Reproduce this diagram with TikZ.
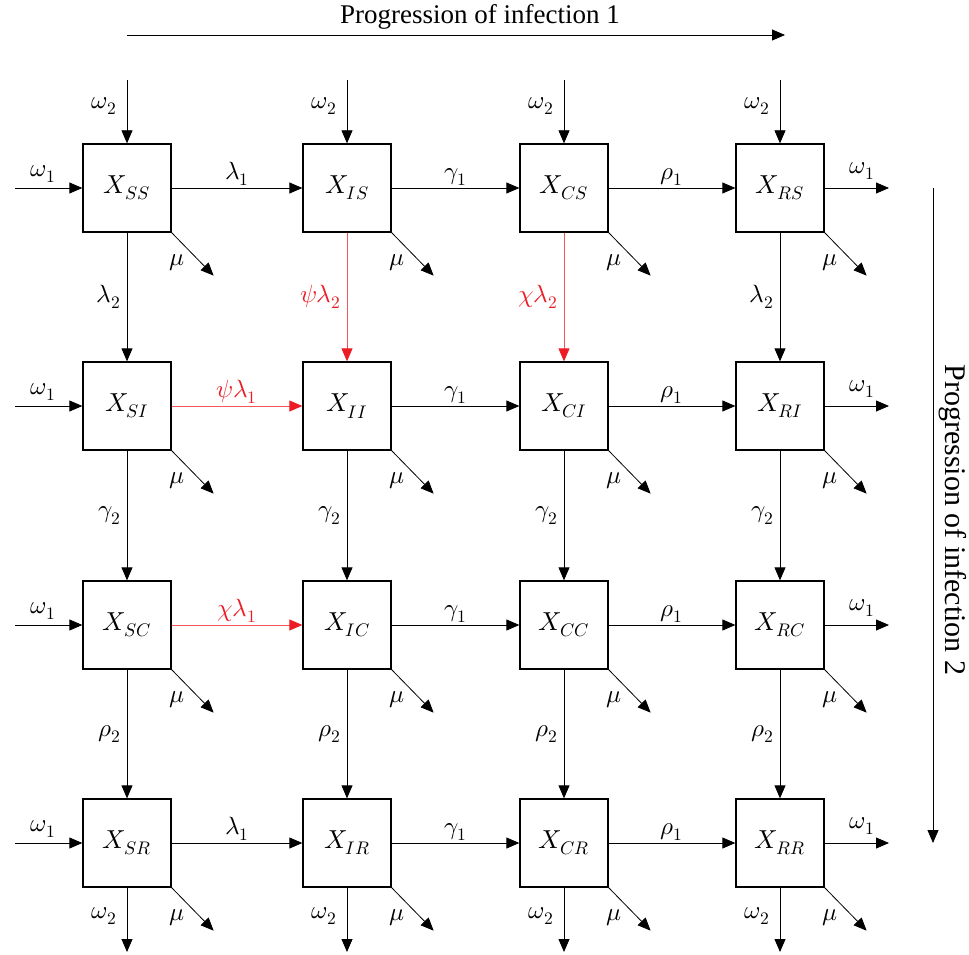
\documentclass[tikz,border=0pt]{standalone}
\usepackage{fontspec}
\usepackage{unicode-math}
\setmainfont{Liberation Serif}
\setmathfont{Latin Modern Math}
\usetikzlibrary{arrows.meta,calc}
\definecolor{flowred}{RGB}{237,28,36}
\begin{document}
\begin{tikzpicture}[x=1pt,y=-1pt,
  comp/.style={draw, line width=1.3pt, minimum width=88pt, minimum height=88pt,
    inner sep=0pt, font=\fontsize{26}{28}\selectfont},
  flow/.style={line width=0.8pt, -{Triangle[length=13pt,width=11pt]}},
  redflow/.style={line width=0.8pt, draw=flowred!75,
    -{Triangle[length=13pt,width=11pt,color=flowred,fill=flowred]}},
  rate/.style={font=\fontsize{25}{27}\selectfont, inner sep=1pt},
  redrate/.style={rate, text=flowred},
  heading/.style={font=\fontsize{27}{30}\selectfont, inner sep=0pt},
]
\useasboundingbox (0,0) rectangle (969,955);

% compartments: first subscript = state of infection 1, second = infection 2
\foreach \c/\x in {S/127,I/347,C/564,R/780}
  \foreach \r/\y in {S/188,I/406,C/625,R/843}
    \node[comp] (X\c\r) at (\x,\y) {$X_{\c\r}$};

% progression of infection 1 (horizontal)
\foreach \r in {S,R}
  \draw[flow] (XS\r) -- node[midway, above=1pt, rate] {$\lambda_1$} (XI\r);
\draw[redflow] (XSI) -- node[midway, above=1pt, redrate] {$\psi\lambda_1$} (XII);
\draw[redflow] (XSC) -- node[midway, above=1pt, redrate] {$\chi\lambda_1$} (XIC);
\foreach \r in {S,I,C,R} {
  \draw[flow] (XI\r) -- node[midway, above=1pt, rate] {$\gamma_1$} (XC\r);
  \draw[flow] (XC\r) -- node[midway, above=1pt, rate] {$\rho_1$} (XR\r);
}

% progression of infection 2 (vertical)
\foreach \c in {S,R}
  \draw[flow] (X\c S) -- node[midway, left=5pt, rate] {$\lambda_2$} (X\c I);
\draw[redflow] (XIS) -- node[midway, left=5pt, redrate] {$\psi\lambda_2$} (XII);
\draw[redflow] (XCS) -- node[midway, left=5pt, redrate] {$\chi\lambda_2$} (XCI);
\foreach \c in {S,I,C,R} {
  \draw[flow] (X\c I) -- node[midway, left=5pt, rate] {$\gamma_2$} (X\c C);
  \draw[flow] (X\c C) -- node[midway, left=5pt, rate] {$\rho_2$} (X\c R);
}

% mortality from every compartment
\foreach \c in {S,I,C,R}
  \foreach \r in {S,I,C,R} {
    \draw[flow] (X\c\r.south east) -- ++(42,43) coordinate (mu\c\r);
    \node[rate] at ($(X\c\r.south east)+(5,30)$) {$\mu$};
  }

% inflow along the top row, outflow along the bottom row (omega_2)
\foreach \c/\x in {S/127,I/347,C/564,R/780} {
  \coordinate (in\c) at (\x,80);
  \draw[flow] (in\c) -- (X\c S);
  \node[rate] at (\x-23,106) {$\omega_2$};
  \coordinate (out\c) at (\x,952);
  \draw[flow] (X\c R) -- (out\c);
  \node[rate] at (\x-23,916) {$\omega_2$};
}
% inflow along the left column, outflow along the right column (omega_1)
\foreach \r/\y in {S/188,I/406,C/625,R/843} {
  \coordinate (left\r) at (15,\y);
  \draw[flow] (left\r) -- (XS\r);
  \node[rate] at (43,\y-14) {$\omega_1$};
  \coordinate (right\r) at (889,\y);
  \draw[flow] (XR\r) -- (right\r);
  \node[rate] at (862,\y-17) {$\omega_1$};
}

% axis arrows
\coordinate (h0) at (127,35);
\coordinate (h1) at (785,35);
\draw[flow] (h0) -- (h1);
\node[heading] (head1) at (480,17) {Progression of infection 1};
\coordinate (v0) at (933,188);
\coordinate (v1) at (933,843);
\draw[flow] (v0) -- (v1);
\node[heading, rotate=-90, font=\fontsize{30}{32}\selectfont] (head2) at (953,520) {Progression of infection 2};
\end{tikzpicture}
\end{document}
